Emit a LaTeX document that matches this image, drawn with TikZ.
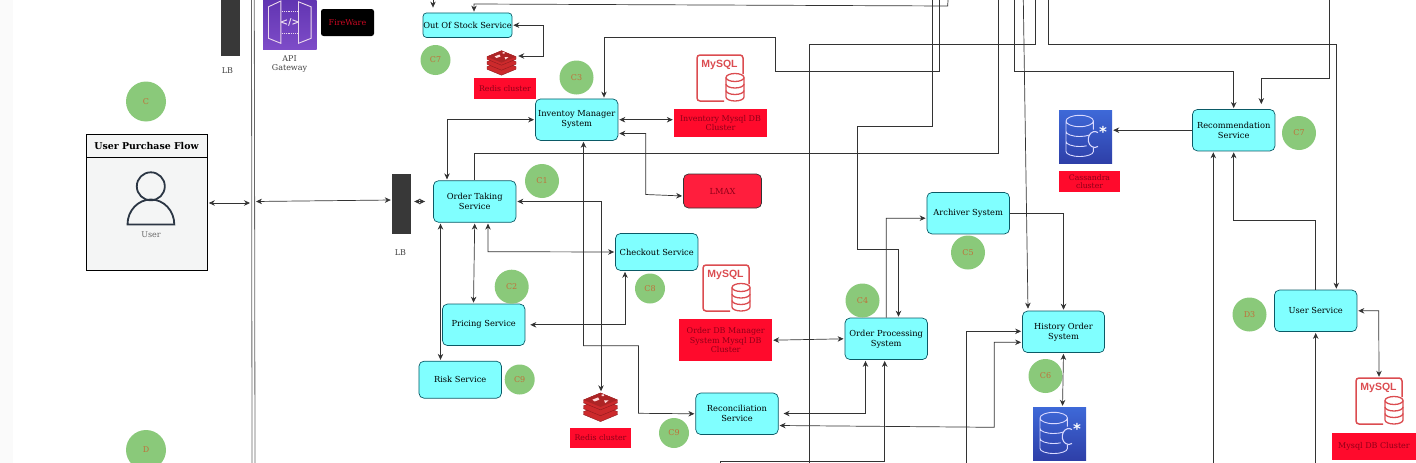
\documentclass[tikz,border=0pt]{standalone}
\usepackage{fontspec}
\setmainfont{DejaVu Serif}
\newfontfamily\iconfont{DejaVu Sans}
\newfontfamily\logofont{Liberation Sans}
\usetikzlibrary{arrows.meta}
\definecolor{svcfill}{HTML}{80FFFF}
\definecolor{svcline}{HTML}{0B5A66}
\definecolor{tagfill}{HTML}{FF0A2C}
\definecolor{tagtext}{HTML}{8F0018}
\definecolor{badgefill}{HTML}{8AC97A}
\definecolor{badgetext}{HTML}{C0703A}
\definecolor{iconred}{HTML}{DB4C50}
\definecolor{redisred}{HTML}{CC2A2C}
\definecolor{redisdark}{HTML}{8E1A1E}
\definecolor{panelfill}{HTML}{F4F5F5}
\definecolor{userline}{HTML}{2B3644}
\definecolor{casstop}{HTML}{3E69D8}
\definecolor{cassbot}{HTML}{2E3FA8}
\definecolor{gatetop}{HTML}{5F33B0}
\definecolor{gatebot}{HTML}{7E4CC8}
\tikzset{
  service/.style={shape=rectangle, rounded corners=5pt, draw=svcline, fill=svcfill, align=center, font=\fontsize{8.3}{10}\selectfont, inner sep=0pt, line width=.7pt},
  tag/.style={shape=rectangle, fill=tagfill, align=center, text=tagtext, font=\fontsize{8}{9.6}\selectfont, inner sep=0pt},
  badge/.style={shape=circle, fill=badgefill, text=badgetext, font=\fontsize{8}{10}\selectfont, inner sep=0pt},
  lb/.style={shape=rectangle, fill=black!78, inner sep=0pt},
  caption/.style={align=center, text=black!75, font=\fontsize{8}{9.6}\selectfont},
  wire/.style={line width=.7pt, black!80},
  arr/.style={wire, -{Stealth[length=6pt,width=5.5pt]}, shorten >=1pt},
  both/.style={wire, {Stealth[length=6pt,width=5.5pt]}-{Stealth[length=6pt,width=5.5pt]}, shorten >=1pt, shorten <=1pt},
  mysqlicon/.pic={
    \draw[iconred, line width=1.5pt, rounded corners=3pt] (4,23) -- (-23,23) -- (-23,-23) -- (23,-23) -- (23,-4);
    \node[text=iconred, font=\logofont\bfseries\fontsize{10.5}{11}\selectfont] at (-0.5,-13.5) {MySQL};
    \draw[iconred, line width=1.3pt, fill=white] (6,-0.5) arc (180:360:9 and 4) -- (24,19) arc (0:180:9 and 4) -- cycle;
    \draw[iconred, line width=1.3pt] (6,-0.5) arc (180:0:9 and 4) (6,6) arc (180:0:9 and 4) (6,12.5) arc (180:0:9 and 4);
  },
  cassicon/.pic={
    \shade[top color=casstop, bottom color=cassbot] (-26.5,-26.5) rectangle (26.5,26.5);
    \draw[white!85!blue, line width=.9pt] (-19.5,-15.5) arc (180:-180:13.7 and 5.7) (-19.5,-15.5) -- (-19.5,15) arc (180:0:13.7 and 5) -- (7.9,11) (-19.5,-5) arc (180:45:13.7 and 5) (-19.5,5) arc (180:60:13.7 and 5) (7.9,-15.5) -- (7.9,-7);
    \draw[white!85!blue, line width=1.1pt] (12.5,-3.9) arc (-60:-300:6.5 and 8);
    \node[text=white, font=\iconfont\bfseries\fontsize{15}{15}\selectfont] at (17.5,-5) {*};
  },
  redisicon/.pic={
    \foreach \lift in {6.2,1.2,-3.8}
      \filldraw[fill=redisred, draw=redisdark, line width=.4pt] (-14.5,\lift-2.5) -- (0,\lift-8.5) -- (14.5,\lift-2.5) -- (14.5,\lift) -- (0,\lift+6) -- (-14.5,\lift) -- cycle;
    \fill[redisred!85!black] (-14.5,-6.3) -- (0,-12.3) -- (14.5,-6.3) -- (0,-0.3) -- cycle;
    \fill[white!85!red] (-7,-6.5) -- (-2,-8.5) -- (-1,-6.5) -- (-5,-5) -- cycle (3,-6) -- (7,-6) -- (4,-3.5) -- cycle (1,-11) -- (3,-11) -- (3,-9.5) -- (1,-9.5) -- cycle;
  },
  gateicon/.pic={
    \shade[top color=gatetop, bottom color=gatebot] (-26.8,-26.5) rectangle (26.8,26.5);
    \draw[white!85!violet, line width=.9pt] (-21.3,-16) -- (-9,-21.8) -- (-9,20.5) -- (-21.3,15.5) -- cycle (8.7,-21) -- (21.3,-16) -- (21.3,15.5) -- (8.7,20.5) -- cycle;
    \draw[white!85!violet, line width=.9pt, densely dotted] (-8,-11) -- (8,-11) (-8,10.5) -- (8,10.5);
    \node[text=white!90!violet, font=\iconfont\bfseries\fontsize{9.5}{10}\selectfont] at (0,-.5) {</>};
  }
}
\begin{document}
\begin{tikzpicture}[x=1pt, y=-1pt]
\useasboundingbox (0,0) rectangle (1416,463);
\fill[black!2] (0,0) rectangle (13,463);

% edge points
\foreach \name/\xpos in {oosA/433,oosB/948,invT/939.7,takeT/998.3,procT/932.7,midT/1035.7,recoA/1014.7,userT/1048.7,histT/1023.3,recoB/1329.4}
  \coordinate (\name) at (\xpos,0);
\foreach \name/\xpos in {midB/809.3,procB/720,histB/966.7,recoC/1213.3,userB/1315.7}
  \coordinate (\name) at (\xpos,463);

% left side
\node[lb, minimum width=19pt, minimum height=56pt] (lbtop) at (230.5,27.5) {};
\node[caption] (lbtoptext) at (227.5,71) {LB};
\draw[black!60, line width=.8pt] (251.5,0) -- (252,463) (254.3,0) -- (255,463);
\coordinate (wallL) at (251,203);
\coordinate (wallR) at (255,201.5);
\pic at (289.8,22.8) {gateicon};
\node[caption] (gatetext) at (289.5,64) {API\\Gateway};
\node[shape=rectangle, rounded corners=2.5pt, fill=black, text=tagfill!80!black, minimum width=53pt, minimum height=27pt, inner sep=0pt, font=\fontsize{8}{10}\selectfont] (fireware) at (347.5,22.5) {FireWare};
\node[badge, minimum size=40pt] (cC) at (146,101.5) {C};
\node[badge, minimum size=40pt] (cD) at (146,450) {D};
\node[shape=rectangle, draw=black, fill=panelfill, line width=.6pt, minimum width=121pt, minimum height=136pt] (userbox) at (147,202.5) {};
\draw[black, line width=.6pt] (86.5,157.3) -- (207.5,157.3);
\node[font=\bfseries\fontsize{9.4}{10}\selectfont] (userhead) at (146.5,146) {User Purchase Flow};
\draw[userline, line width=1.8pt] (150.8,186.3) circle (14);
\draw[userline, line width=1.8pt] (127.5,224.5) arc (180:360:23.4 and 25) -- cycle;
\node[caption, text=black!60] (usertext) at (151,235) {User};
\node[lb, minimum width=19pt, minimum height=60pt] (lbmain) at (401.5,204) {};
\node[caption] (lbmaintext) at (400.5,253) {LB};

% services
\node[service, minimum width=89pt, minimum height=24.5pt, rounded corners=3.5pt] (oos) at (467.5,25.2) {Out Of Stock Service};
\node[service, minimum width=82.5pt, minimum height=41.5pt] (take) at (474.7,201.5) {Order Taking\\Service};
\node[service, minimum width=82.5pt, minimum height=41.5pt] (inv) at (576.7,119.7) {Inventoy Manager\\System};
\node[service, minimum width=82.5pt, minimum height=41.5pt] (pricing) at (483.7,324.8) {Pricing Service};
\node[service, minimum width=82.5pt, minimum height=37pt] (risk) at (460.2,379.7) {Risk Service};
\node[service, minimum width=82.5pt, minimum height=37pt] (checkout) at (656.7,252) {Checkout Service};
\node[service, minimum width=82.5pt, minimum height=41.5pt] (recon) at (737,413.8) {Reconciliation\\Service};
\node[service, minimum width=82.5pt, minimum height=41.5pt] (proc) at (886.2,338.8) {Order Processing\\System};
\node[service, minimum width=82.5pt, minimum height=41.5pt] (arch) at (968.2,213.2) {Archiver System};
\node[service, minimum width=82pt, minimum height=41.5pt] (hist) at (1063.5,331.8) {History Order\\System};
\node[service, minimum width=82.5pt, minimum height=41.5pt] (reco) at (1233.7,130.2) {Recommendation\\Service};
\node[service, minimum width=82.5pt, minimum height=41.5pt] (usersvc) at (1315.7,310.8) {User Service};
\node[service, fill=tagfill!92!white, draw=black!80, minimum width=78pt, minimum height=34pt, text=tagtext] (lmax) at (722.5,191) {LMAX};

% stores
\node[minimum size=46pt, inner sep=0pt] (mysqlinv) at (720,78) {};
\pic at (720,78) {mysqlicon};
\node[tag, minimum width=93pt, minimum height=27.5pt] (taginv) at (720.5,123.2) {Inventory Mysql DB\\Cluster};
\node[minimum size=46pt, inner sep=0pt] (mysqlorder) at (726,288) {};
\pic at (726,288) {mysqlicon};
\node[tag, minimum width=92.5pt, minimum height=42.5pt, font=\fontsize{8}{9.4}\selectfont] (tagorder) at (725.7,340.2) {Order DB Manager\\System Mysql DB\\Cluster};
\node[minimum size=46pt, inner sep=0pt] (mysqluser) at (1379,401) {};
\pic at (1379,401) {mysqlicon};
\node[tag, minimum width=84pt, minimum height=27pt] (taguser) at (1374,446.5) {Mysql DB Cluster};
\node[minimum size=53pt, inner sep=0pt] (cassreco) at (1085.5,136.5) {};
\pic at (1085.5,136.5) {cassicon};
\node[tag, minimum width=61pt, minimum height=21pt, font=\fontsize{7.7}{8.6}\selectfont] (tagcass) at (1089.5,181.5) {Cassandra\\cluster};
\node[minimum size=53pt, inner sep=0pt] (casshist) at (1059.5,433.5) {};
\pic at (1059.5,433.5) {cassicon};
\node[minimum size=25pt, inner sep=0pt] (redistop) at (501.5,63) {};
\pic at (501.5,63) {redisicon};
\node[tag, minimum width=62pt, minimum height=21pt, font=\fontsize{7.8}{8.6}\selectfont] (tagredistop) at (505,88.5) {Redis cluster};
\node[minimum size=28pt, inner sep=0pt] (redisbot) at (600.5,406.5) {};
\pic[scale=1.17] at (600.5,407.3) {redisicon};
\node[tag, minimum width=61pt, minimum height=20pt, font=\fontsize{7.8}{8.6}\selectfont] (tagredisbot) at (600.5,438) {Redis cluster};

% badges
\node[badge, minimum size=30pt] (c7a) at (435.5,60) {C7};
\node[badge, minimum size=34pt] (c3) at (576.5,77.5) {C3};
\node[badge, minimum size=34pt] (c1) at (542,181) {C1};
\node[badge, minimum size=34pt] (c2) at (511.7,286.7) {C2};
\node[badge, minimum size=30pt] (c8) at (650,288.5) {C8};
\node[badge, minimum size=30pt] (c9a) at (519.7,379.5) {C9};
\node[badge, minimum size=30pt] (c9b) at (674,433) {C9};
\node[badge, minimum size=34pt] (c4) at (862.5,300.5) {C4};
\node[badge, minimum size=34pt] (c5) at (968,252.5) {C5};
\node[badge, minimum size=34pt] (c6) at (1045.5,376) {C6};
\node[badge, minimum size=34pt] (c7b) at (1299,133) {C7};
\node[badge, minimum size=34pt] (d3) at (1249.5,314.5) {D3};

% connectors
\draw[both] (userbox.east |- wallL) -- (wallL);
\draw[both] (wallR) -- ([yshift=4pt]lbmain.west);
\draw[both] ([xshift=2pt,yshift=2.5pt]lbmain.east) -- ([xshift=-7pt]take.west);
\draw[arr] (oosA) -- ([xshift=-34.5pt,yshift=4pt]oos.north);
\draw[arr] (oosB) -- (947.7,6) -- (474,4) -- ([xshift=6.5pt]oos.north);
\draw[both] (oos.east) -- (543,25.2) -- (543,56) -- ([xshift=3pt,yshift=7pt]redistop.east);
\draw[arr] (invT) -- (939.7,71.3) -- (775.3,71.3) -- (775.3,37.5) -- (604,37.5) -- ([xshift=27.3pt]inv.north);
\draw[wire] (take.north) -- (474.7,153.7) -- (998.3,153.7) -- (takeT);
\draw[arr] (procT) -- (932.7,126.3) -- (857.3,126.3) -- (857.3,249.3) -- (898.5,249.3) -- ([xshift=12.3pt]proc.north);
\draw[wire] (midB) -- (809.3,44) -- (1035.7,44) -- (midT);
\draw[arr] (recoA) -- (1014.7,71.3) -- (1233.7,71.3) -- (reco.north);
\draw[arr] (userT) -- (1048.7,44) -- (1336.3,44) -- ([xshift=20.6pt]usersvc.north);
\draw[arr] (histT) -- ([xshift=-35.5pt,yshift=1pt]hist.north);
\draw[arr] (arch.east) -- (1063.5,213.2) -- (hist.north);
\draw[arr] (proc.north) -- (886.2,218.3) -- ([yshift=-5pt]arch.west);
\draw[both] (tagorder.east) -- (proc.west);
\draw[both] ([xshift=-20.7pt]proc.south) -- (865.5,413.5) -- ([xshift=4pt,yshift=.3pt]recon.east);
\draw[arr] (procB) -- (720,461.3) -- (884.7,461.3) -- ([xshift=-1.5pt]proc.south);
\draw[arr] (histB) -- (966.7,331.3) -- ([yshift=.5pt]hist.west);
\draw[both] ([yshift=-10.5pt]hist.west) -- (994.3,342.3) -- (994.3,427.3) -- ([yshift=-11.7pt]recon.east);
\draw[both] (hist.south) -- ([xshift=3pt]casshist.north);
\draw[arr] (reco.west) -- (cassreco.east |- reco.west);
\draw[arr] (recoB) -- (1329.4,78.7) -- (1261.3,78.7) -- ([xshift=27.6pt,yshift=4pt]reco.north);
\draw[arr] (recoC) -- ([xshift=-20.4pt]reco.south);
\draw[arr] (usersvc.north) -- (1315.7,220.7) -- (1233.7,220.7) -- (reco.south);
\draw[arr] (userB) -- (usersvc.south);
\draw[both] (usersvc.east) -- (1378.7,310.8) -- (mysqluser.north);
\draw[both] (inv.east) -- (taginv.west |- inv.east);
\draw[both] ([yshift=-13.8pt]inv.east) -- (645.7,133.5) -- (645.7,194.5) -- ([yshift=-5pt]lmax.west);
\draw[both] (inv.west) -- (447,119.7) -- ([xshift=-27.7pt]take.north);
\draw[both] ([xshift=6.8pt]inv.south) -- (583.5,345.7) -- (638.5,345.7) -- (638.5,413.3) -- (recon.west);
\draw[both] (take.east) -- (601,201.5) -- ([xshift=.5pt]redisbot.north);
\draw[both] ([xshift=13.3pt]take.south) -- (488,251.7) -- (checkout.west);
\draw[both] (take.south) -- ([xshift=-10.2pt]pricing.north);
\draw[both] ([xshift=-34.2pt]take.south) -- ([xshift=-19.7pt]risk.north);
\draw[both] ([xshift=4pt]pricing.east) -- (625,324.8) -- ([xshift=-31.7pt]checkout.south);
\end{tikzpicture}
\end{document}
